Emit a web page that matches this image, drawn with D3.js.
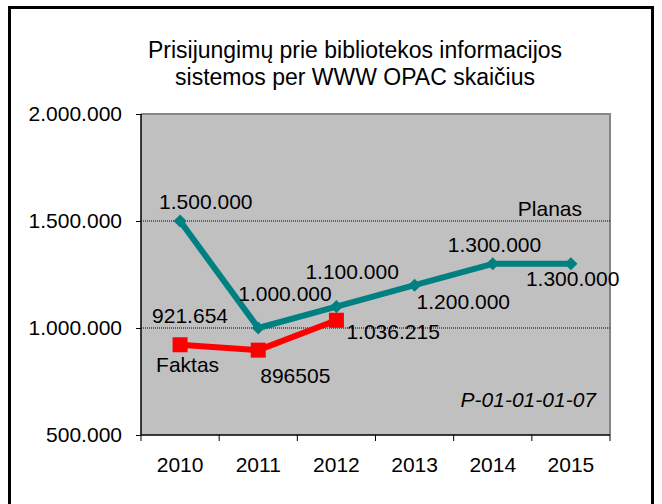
<!DOCTYPE html>
<html>
<head>
<meta charset="utf-8">
<script src="https://cdn.jsdelivr.net/npm/d3@7"></script>
<style>
  body { margin: 0; background: #fff; }
  text { font-family: "Liberation Sans", Arial, sans-serif; fill: #000; }
</style>
</head>
<body>
<div id="chart"></div>
<script>
var years = ["2010", "2011", "2012", "2013", "2014", "2015"];
var planas = [1500000, 1000000, 1100000, 1200000, 1300000, 1300000];
var faktas = [921654, 896505, 1036215];
var faktasLabels = ["921.654", "896505", "1.036.215"];
var yTicks = [500000, 1000000, 1500000, 2000000];
var titleLines = ["Prisijungimų prie bibliotekos informacijos", "sistemos per WWW OPAC skaičius"];

var W = 662, H = 504;
var margin = {top: 114, right: 52, bottom: 69, left: 141},
    width = W - margin.left - margin.right,
    height = H - margin.top - margin.bottom;

var fmt = function(v){ return d3.format(",")(v).replace(/,/g, ".") };

var root = d3.select("#chart").append("svg")
  .attr("width", W).attr("height", H);

// outer frame
root.append("rect")
  .attr("x", 9.5).attr("y", 7.5).attr("width", 643).attr("height", 510)
  .attr("fill", "none").attr("stroke", "#000").attr("stroke-width", 3);

root.selectAll(".title").data(titleLines).enter().append("text")
  .attr("x", 355).attr("y", function(d, i){ return 58 + i * 27 })
  .attr("text-anchor", "middle").style("font-size", "23px")
  .text(function(d){ return d });

var svg = root.append("g")
  .attr("transform", "translate(" + margin.left + "," + margin.top + ")");

var x = d3.scaleBand().domain(years).range([0, width]);
var y = d3.scaleLinear().domain([500000, 2000000]).range([height, 0]);
var cx = function(d, i){ return x(years[i]) + x.bandwidth() / 2 };

// plot area
svg.append("rect")
  .attr("width", width).attr("height", height)
  .attr("fill", "#c0c0c0");
svg.append("path")
  .attr("d", "M0,0H" + width + "V" + height)
  .attr("fill", "none").attr("stroke", "#868686").attr("stroke-width", 2);

// gridlines
svg.selectAll(".grid").data([1000000, 1500000]).enter().append("line")
  .attr("x1", 0).attr("x2", width)
  .attr("y1", function(d){ return y(d) }).attr("y2", function(d){ return y(d) })
  .attr("stroke", "#000").attr("stroke-width", 1).attr("stroke-dasharray", "1,1");

// axes
var yAxis = svg.append("g")
  .call(d3.axisLeft(y).tickValues(yTicks).tickSize(5).tickPadding(14).tickFormat(fmt));
var xAxis = svg.append("g")
  .attr("transform", "translate(0," + height + ")")
  .call(d3.axisBottom(x).tickSize(0).tickPadding(22));
svg.append("g").selectAll("line").data(d3.range(years.length + 1)).enter().append("line")
  .attr("x1", function(i){ return i * x.bandwidth() }).attr("x2", function(i){ return i * x.bandwidth() })
  .attr("y1", height).attr("y2", height + 6)
  .attr("stroke", "#000");
[yAxis, xAxis].forEach(function(a){
  a.select(".domain").attr("stroke", "#000").attr("stroke-width", 1.5);
  a.selectAll("text").style("font-size", "21px").style("font-family", "Liberation Sans, Arial, sans-serif");
});
xAxis.select(".domain").attr("d", "M0,0H" + width);
yAxis.select(".domain").attr("d", "M0," + height + "V0");

// Planas line
svg.append("path").datum(planas)
  .attr("fill", "none").attr("stroke", "#008080").attr("stroke-width", 6)
  .attr("stroke-linejoin", "round")
  .attr("d", d3.line().x(cx).y(function(d){ return y(d) }));
svg.selectAll(".diamond").data(planas).enter().append("path")
  .attr("d", d3.symbol().type(d3.symbolDiamond2).size(110))
  .attr("transform", function(d, i){ return "translate(" + cx(d, i) + "," + y(d) + ")" })
  .attr("fill", "#008080");

// Faktas line
svg.append("path").datum(faktas)
  .attr("fill", "none").attr("stroke", "#ff0000").attr("stroke-width", 6)
  .attr("d", d3.line().x(cx).y(function(d){ return y(d) }));
svg.selectAll(".square").data(faktas).enter().append("rect")
  .attr("x", function(d, i){ return cx(d, i) - 7.5 }).attr("y", function(d){ return y(d) - 7.5 })
  .attr("width", 15).attr("height", 15)
  .attr("fill", "#ff0000");

// data labels
var planOff = [[-21, -12], [-20, -27], [-31, -28], [2, 24], [-45, -12], [-45, 22]];
svg.selectAll(".plab").data(planas).enter().append("text")
  .attr("x", function(d, i){ return cx(d, i) + planOff[i][0] })
  .attr("y", function(d, i){ return y(d) + planOff[i][1] })
  .style("font-size", "21px")
  .text(fmt);
var faktOff = [[-28, -22], [2, 33], [10, 19]];
svg.selectAll(".flab").data(faktas).enter().append("text")
  .attr("x", function(d, i){ return cx(d, i) + faktOff[i][0] })
  .attr("y", function(d, i){ return y(d) + faktOff[i][1] })
  .style("font-size", "21px")
  .text(function(d, i){ return faktasLabels[i] });

svg.append("text").attr("x", cx(0, 0) - 24).attr("y", y(faktas[0]) + 27)
  .style("font-size", "21px").text("Faktas");
svg.append("text").attr("x", 582 - margin.left).attr("y", y(1500000) - 5)
  .attr("text-anchor", "end").style("font-size", "21px").text("Planas");
svg.append("text").attr("x", 596 - margin.left).attr("y", 407 - margin.top)
  .attr("text-anchor", "end").style("font-size", "21px").style("font-style", "italic")
  .text("P-01-01-01-07");
</script>
</body>
</html>
